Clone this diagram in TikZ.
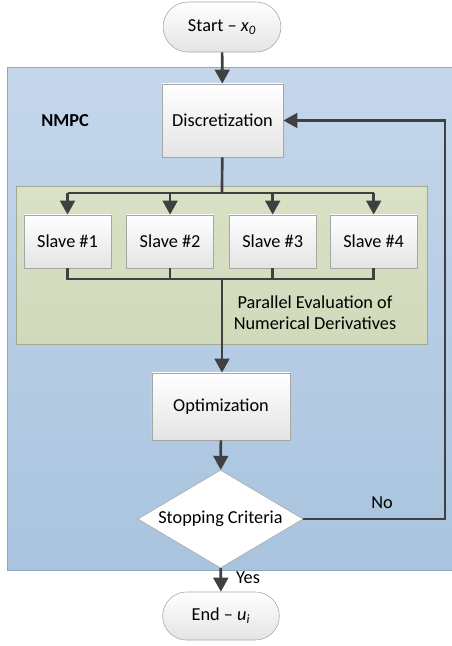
\documentclass[tikz,border=0pt]{standalone}
\usepackage{fontspec}
\setmainfont{Carlito}
\usetikzlibrary{arrows.meta, positioning, shapes.geometric, shapes.misc}

\definecolor{flowgray}{HTML}{404040}
\definecolor{boxline}{HTML}{A6A6A6}
\definecolor{boxfill}{HTML}{E4E4E4}
\definecolor{nmpctop}{HTML}{C5D6EA}
\definecolor{nmpcbot}{HTML}{A9C4DF}
\definecolor{nmpcline}{HTML}{8FA6BF}
\definecolor{partop}{HTML}{D9E1C6}
\definecolor{parbot}{HTML}{D0DABA}
\definecolor{parline}{HTML}{A3AA93}

\begin{document}
\begin{tikzpicture}[x=0.025cm,y=-0.025cm,>={Triangle[length=10pt,width=10.5pt]},
	boxstyle/.style={
	draw=boxline,rectangle,top color=white,bottom color=boxfill,align=center,font=\fontsize{13}{15}\selectfont
},
	termstyle/.style={boxstyle,rounded rectangle},
	decstyle/.style={
	draw=boxline,diamond,fill=white,inner sep=0pt,aspect=1.68,font=\fontsize{13}{15}\selectfont
},
	flow/.style={draw=flowgray,line width=1.9pt},
	lbl/.style={font=\fontsize{13}{15}\selectfont}]
	\useasboundingbox (0,0) rectangle (452,646);

	% panels
	\draw[draw=nmpcline,top color=nmpctop,bottom color=nmpcbot] (7,67) rectangle (456,570);
	\draw[draw=parline,top color=partop,bottom color=parbot] (16,186) rectangle (427,344);
	\node[lbl,font=\fontsize{13}{15}\selectfont\bfseries] (nmpc) at (65,121) {NMPC};

	\node[termstyle,minimum width=3.18cm,minimum height=1.25cm] at (222,27) (start) {Start -- \textit{x\textsubscript{0}}};
	\node[boxstyle,minimum width=3.03cm,minimum height=1.83cm] at (222.5,120.5) (discr) {Discretization};

	\node[boxstyle,minimum width=2.18cm,minimum height=1.33cm] at (67.5,241.5) (slave1) {Slave \#1};
	\node[boxstyle,minimum width=2.18cm,minimum height=1.33cm,right=0.37cm of slave1] (slave2) {Slave \#2};
	\node[boxstyle,minimum width=2.18cm,minimum height=1.33cm,right=0.37cm of slave2] (slave3) {Slave \#3};
	\node[boxstyle,minimum width=2.18cm,minimum height=1.33cm,right=0.33cm of slave3] (slave4) {Slave \#4};
	\node[lbl,align=center] at (315,313) (partxt) {Parallel Evaluation of\\Numerical Derivatives};

	\node[boxstyle,minimum width=3.45cm,minimum height=1.68cm] at (221,406.5) (optim) {Optimization};
	\node[decstyle,minimum width=4.13cm,minimum height=2.45cm] at (220.5,519) (stop) {Stopping Criteria};
	\node[termstyle,minimum width=3.15cm,minimum height=1.2cm] at (221,616) (finish) {End -- \textit{u\textsubscript{i}}};
	\node[lbl] at (382,503) (no) {No};
	\node[lbl] at (248,578) (yes) {Yes};

	\coordinate (split) at (222,193);
	\coordinate (merge) at (222,279);
	\coordinate (back) at (445,519);

	\draw[flow,->] (start) -- (discr);
	\draw[flow] (discr) -- (split);
	\draw[flow] (slave1.north |- split) -- (slave4.north |- split);
	\draw[flow,->] (slave1.north |- split) -- (slave1.north);
	\draw[flow,->] (slave2.north |- split) -- (slave2.north);
	\draw[flow,->] (slave3.north |- split) -- (slave3.north);
	\draw[flow,->] (slave4.north |- split) -- (slave4.north);
	\draw[flow] (slave1.south) -- (slave1.south |- merge) -- (slave4.south |- merge) -- (slave4.south);
	\draw[flow] (slave2.south) -- (slave2.south |- merge);
	\draw[flow] (slave3.south) -- (slave3.south |- merge);
	\draw[flow,->] (merge) -- (merge |- optim.north);
	\draw[flow,->] (optim) -- (stop);
	\draw[flow,->] (stop.east) -- (back) |- (discr.east);
	\draw[flow,->] (stop) -- (finish);
\end{tikzpicture}
\end{document}
